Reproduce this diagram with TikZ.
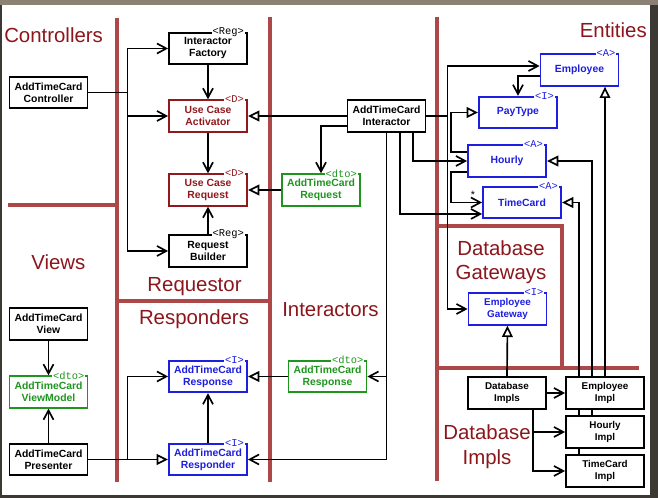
\documentclass[tikz,border=0pt]{standalone}
\usepackage{fontspec}
\setmainfont{Liberation Sans}
\newfontfamily\stereofont{Liberation Mono}
\usetikzlibrary{arrows.meta}
\definecolor{secred}{RGB}{140,22,28}
\definecolor{sepred}{RGB}{172,72,72}
\definecolor{boxred}{RGB}{145,25,30}
\definecolor{boxblue}{RGB}{30,30,225}
\definecolor{boxgreen}{RGB}{30,150,30}
\definecolor{framecol}{RGB}{60,56,52}
\definecolor{topcol}{RGB}{140,130,115}
\pgfdeclarelayer{back}
\pgfdeclarelayer{lines}
\pgfsetlayers{back,lines,main}
\tikzset{
 box/.style={draw, fill=white, line width=1.4pt, minimum width=58.5pt, minimum height=23.6pt, inner sep=1pt, align=center, font=\bfseries\fontsize{7.8}{9}\selectfont},
 sbox/.style={box, font=\bfseries\fontsize{7.4}{8.8}\selectfont},
 redbox/.style={draw=boxred, text=boxred},
 bluebox/.style={draw=boxblue, text=boxblue},
 greenbox/.style={draw=boxgreen, text=boxgreen},
 conn/.style={line width=1.25pt},
 barb/.style={conn, -{Straight Barb[length=7pt,width=7.5pt]}},
 tri/.style={conn, -{Triangle[length=8.5pt,width=8pt,fill=white]}},
 sep/.style={draw=sepred, line width=2.3pt},
 sect/.style={text=secred, font=\fontsize{15.3}{18}\selectfont, inner sep=0pt},
 stereo/.style={fill=white, inner sep=0.6pt, anchor=east, font=\stereofont\fontsize{7.8}{7.8}\selectfont},
}
\newcommand\stlabel[3]{\node[stereo, text=#3] (#1-st) at ([xshift=-2.2pt]#1.north east) {<#2>};}
\begin{document}
\begin{tikzpicture}[x=0.75pt,y=-0.75pt]
\useasboundingbox (0,0) rectangle (658,498);
\begin{pgfonlayer}{back}
\fill[framecol] (0,0) rectangle (658,498);
\fill[topcol] (0,0) rectangle (658,5);
\fill[white] (2,5) rectangle (650,495);
% separators
\draw[sep] (117,18) -- (117,482);
\draw[sep] (270,17) -- (270,482);
\draw[sep] (437,17) -- (437,481);
\draw[sep] (8,205) -- (117,205);
\draw[sep] (117,301) -- (270,301);
\draw[sep] (437,226) -- (562,226) -- (562,368);
\draw[sep] (437,368) -- (639,368);
\end{pgfonlayer}

% section labels
\node[sect, anchor=base west] (lctrl) at (4,43) {Controllers};
\node[sect, anchor=base east] (lent) at (647,38) {Entities};
\node[sect, anchor=base west] (lviews) at (31,270) {Views};
\node[sect, anchor=base] (lreq) at (194.5,292) {Requestor};
\node[sect, anchor=base] (lresp) at (194,325) {Responders};
\node[sect, anchor=base west] (lint) at (282,317) {Interactors};
\node[sect, anchor=base] (ldg1) at (501,256) {Database};
\node[sect, anchor=base] (ldg2) at (501,280) {Gateways};
\node[sect, anchor=base] (ldi1) at (487,440) {Database};
\node[sect, anchor=base] (ldi2) at (487,465) {Impls};

% nodes
\node[box] (ctrl) at (48.5,92.5) {AddTimeCard\\Controller};
\node[box] (factory) at (208,48.5) {Interactor\\Factory};
\node[box, redbox] (activator) at (208,116) {Use Case\\Activator};
\node[box, redbox] (ucrequest) at (208,190) {Use Case\\Request};
\node[box] (builder) at (208,251) {Request\\Builder};
\node[box] (interactor) at (386.5,116) {AddTimeCard\\Interactor};
\node[box, greenbox] (request) at (321,190) {AddTimeCard\\Request};
\node[box, bluebox] (employee) at (579.5,70) {Employee};
\node[box, bluebox] (paytype) at (518,112.5) {PayType};
\node[box, bluebox] (hourly) at (507,161) {Hourly};
\node[box, bluebox] (timecard) at (522,202.5) {TimeCard};
\node[sbox, bluebox] (gateway) at (507.5,309) {Employee\\Gateway};
\node[sbox] (dbimpls) at (507,393) {Database\\Impls};
\node[sbox] (empimpl) at (605,393) {Employee\\Impl};
\node[sbox] (hourlyimpl) at (605,432) {Hourly\\Impl};
\node[sbox] (tcimpl) at (605,471) {TimeCard\\Impl};
\node[box] (view) at (48.5,324) {AddTimeCard\\View};
\node[box, greenbox] (viewmodel) at (48.5,392) {AddTimeCard\\ViewModel};
\node[box] (presenter) at (48.5,459.5) {AddTimeCard\\Presenter};
\node[box, bluebox] (response) at (208,376.5) {AddTimeCard\\Response};
\node[box, bluebox] (responder) at (208,459.5) {AddTimeCard\\Responder};
\node[box, greenbox] (responsedto) at (327.5,376.5) {AddTimeCard\\Response};

% stereotypes
\stlabel{factory}{Reg}{black}
\stlabel{activator}{D}{boxred}
\stlabel{ucrequest}{D}{boxred}
\stlabel{builder}{Reg}{black}
\stlabel{request}{dto}{boxgreen}
\stlabel{employee}{A}{boxblue}
\stlabel{paytype}{I}{boxblue}
\stlabel{hourly}{A}{boxblue}
\stlabel{timecard}{A}{boxblue}
\stlabel{gateway}{I}{boxblue}
\stlabel{viewmodel}{dto}{boxgreen}
\stlabel{response}{I}{boxblue}
\stlabel{responder}{I}{boxblue}
\stlabel{responsedto}{dto}{boxgreen}

\node[font=\fontsize{8}{8}\selectfont, inner sep=0pt] (star) at (473,195) {*};

\begin{pgfonlayer}{lines}
% controllers
\draw[barb] (ctrl.east) -- ++(39,0) |- (factory.west);
\draw[barb] (ctrl.east) -- ++(39,0) |- (activator.west);
\draw[barb] (ctrl.east) -- ++(39,0) |- (builder.west);
\draw[barb] (factory.south) -- (activator.north);
\draw[barb] (activator.south) -- (ucrequest.north);
\draw[barb] (builder.north) -- (ucrequest.south);
\draw[tri] (interactor.west) -- (activator.east);
\draw[tri] (request.west) -- (ucrequest.east);
\draw[barb] ([yshift=-7.5pt]interactor.west) -| (request.north);
% interactor to entities
\draw[barb] (interactor.east) -- ++(21,0) |- ([yshift=3pt]employee.west);
\draw[barb] (interactor.east) -- ++(21,0) |- (gateway.west);
\draw[barb] ([xshift=19.9pt]interactor.south) |- (hourly.west);
\draw[barb] ([xshift=10.1pt]interactor.south) |- ([yshift=-8.6pt]timecard.west);
\draw[barb] (interactor.south) |- (responder.east);
\draw[barb] (interactor.south |- responsedto.east) -- (responsedto.east);
% entities
\draw[barb] ([yshift=-4.5pt]employee.west) -| (paytype.north);
\draw[tri] ([yshift=6.75pt]hourly.west) -- ++(-16,0) |- (paytype.west);
\draw[barb] ([yshift=-8.25pt]hourly.west) -- ++(-16,0) |- (timecard.west);
% impls
\draw[tri] (empimpl.north) -- (empimpl.north |- employee.south);
\draw[tri] ([xshift=-9.75pt]hourlyimpl.north) |- (hourly.east);
\draw[tri] ([xshift=-19.5pt]tcimpl.north) |- (timecard.east);
\draw[tri] (dbimpls.north) -- (gateway.south);
\draw[barb] (dbimpls.east) -- (empimpl.west);
\draw[barb] ([xshift=19.5pt]dbimpls.south) |- (hourlyimpl.west);
\draw[barb] ([xshift=19.5pt]dbimpls.south) |- (tcimpl.west);
% views and responders
\draw[barb] (view.south) -- (viewmodel.north);
\draw[barb] (presenter.north) -- (viewmodel.south);
\draw[tri] (presenter.east) -- (responder.west);
\draw[barb] (presenter.east) -- ++(39,0) |- (response.west);
\draw[barb] (responder.north) -- (response.south);
\draw[tri] (responsedto.west) -- (response.east);
\end{pgfonlayer}
\end{tikzpicture}
\end{document}
